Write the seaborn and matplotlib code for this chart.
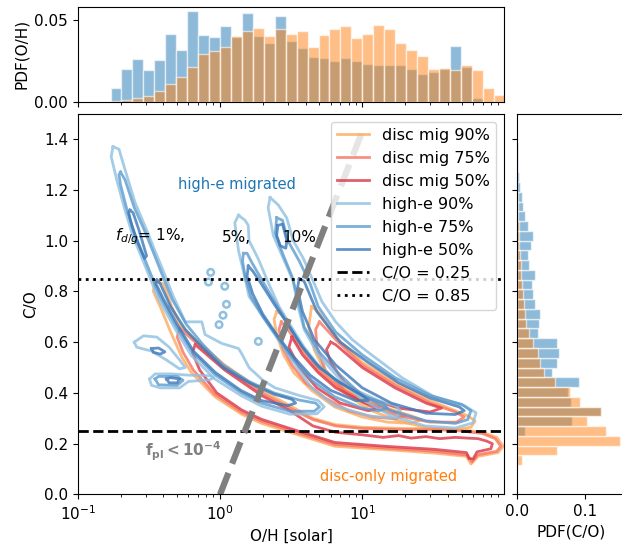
import numpy as np
import pandas as pd
import matplotlib
matplotlib.use("Agg")
import matplotlib.pyplot as plt
import seaborn as sns

plt.rcParams['font.family'] = ['DejaVu Sans']
plt.rcParams['font.size'] = 11
plt.rcParams['mathtext.fontset'] = 'dejavusans'

# ---------------- histogram data (fraction per bin) ----------------
n_bins = 39
oh_log_range = (-1, 2)        # O/H bins, log10 units
co_range = (0, 1.5)           # C/O bins

pdf_oh_highe = [0, 0, 0, 0.0086, 0.0200, 0.0261, 0.0194, 0.0255, 0.0412, 0.0316,
                0.0553, 0.0408, 0.0396, 0.0465, 0.0395, 0.0545, 0.0404, 0.0361, 0.0524, 0.0373,
                0.0329, 0.0276, 0.0269, 0.0251, 0.0269, 0.0249, 0.0233, 0.0227, 0.0227, 0.0227,
                0.0202, 0.0171, 0.0182, 0.0202, 0.0341, 0.0212, 0.0024, 0, 0]
pdf_oh_disc = [0, 0, 0, 0.0004, 0.0012, 0.0022, 0.0035, 0.0067, 0.0110, 0.0151,
               0.0214, 0.0294, 0.0310, 0.0335, 0.0402, 0.0433, 0.0449, 0.0404, 0.0445, 0.0414,
               0.0433, 0.0335, 0.0406, 0.0447, 0.0463, 0.0390, 0.0416, 0.0469, 0.0447, 0.0359,
               0.0314, 0.0282, 0.0202, 0.0206, 0.0194, 0.0224, 0.0196, 0.0084, 0.0041]
pdf_co_highe = [0, 0, 0, 0, 0, 0, 0.0113, 0.0808, 0.1240, 0.0793,
                0.0754, 0.0916, 0.0507, 0.0581, 0.0611, 0.0591, 0.0305, 0.0320, 0.0330, 0.0261,
                0.0227, 0.0212, 0.0266, 0.0167, 0.0153, 0.0202, 0.0227, 0.0153, 0.0108, 0.0084,
                0.0064, 0.0039, 0.0030, 0.0015, 0.0010, 0.0005, 0, 0, 0]
pdf_co_disc = [0, 0, 0, 0.0069, 0.0586, 0.1520, 0.1310, 0.1025, 0.1230, 0.0926,
               0.0778, 0.0557, 0.0394, 0.0335, 0.0300, 0.0236, 0.0177, 0.0128, 0.0118, 0.0099,
               0.0079, 0.0069, 0.0059, 0.0049, 0.0039, 0.0030, 0.0025, 0.0020, 0.0015, 0.0010,
               0.0005, 0, 0, 0, 0, 0, 0, 0, 0]

# ---------------- contour outlines (O/H [solar], C/O) ----------------
disc_1pct_90 = [(0.35,0.84),(0.40,0.83),(0.45,0.75),(0.52,0.67),(0.67,0.61),(1.08,0.51),(1.96,0.41),
                (3.1,0.35),(4.5,0.30),(6.5,0.275),(10,0.265),(20,0.26),(35,0.26),(50,0.255),(70,0.245),
                (88,0.225),(98,0.19),(90,0.165),(65,0.15),(58,0.12),(54,0.15),(32,0.163),(14.4,0.177),
                (6.4,0.19),(3.1,0.245),(1.96,0.28),(1.42,0.316),(0.92,0.385),(0.63,0.48),(0.54,0.54),
                (0.45,0.64),(0.38,0.74),(0.34,0.80),(0.35,0.84)]
disc_1pct_75 = [(0.52,0.655),(0.67,0.60),(1.08,0.50),(1.96,0.40),(3.1,0.34),(4.5,0.295),(6.5,0.27),
                (10,0.26),(20,0.255),(35,0.255),(50,0.25),(70,0.24),(86,0.22),(94,0.19),(88,0.17),
                (65,0.157),(59,0.128),(55,0.155),(32,0.17),(14.4,0.183),(6.4,0.197),(3.1,0.252),
                (1.96,0.288),(1.42,0.324),(0.92,0.395),(0.65,0.49),(0.55,0.56),(0.50,0.62),(0.52,0.655)]
disc_1pct_50 = [(0.67,0.59),(1.08,0.49),(1.96,0.39),(3.1,0.33),(4.5,0.27),(6.5,0.245),(10,0.235),
                (14,0.225),(18,0.232),(22,0.222),(28,0.228),(35,0.22),(45,0.225),(55,0.222),(65,0.22),
                (75,0.21),(82,0.20),(80,0.18),(64,0.168),(60,0.14),(56,0.142),(54,0.165),(32,0.178),
                (14.4,0.19),(6.4,0.205),(3.1,0.26),(1.96,0.296),(1.42,0.333),(0.95,0.40),(0.72,0.49),
                (0.64,0.56),(0.67,0.59)]
disc_5pct_90 = [(2.5,0.72),(2.75,0.71),(3.0,0.67),(3.8,0.58),(4.9,0.50),(6.5,0.44),(10,0.38),
                (15,0.34),(22,0.31),(26,0.295),(22,0.28),(15,0.285),(10,0.305),(6.4,0.345),
                (4.4,0.41),(3.3,0.48),(2.8,0.55),(2.5,0.63),(2.4,0.69),(2.5,0.72)]
disc_5pct_75 = [(2.7,0.68),(3.0,0.65),(3.8,0.565),(4.9,0.49),(6.5,0.43),(10,0.37),(15,0.335),
                (20,0.31),(17,0.298),(12,0.305),(8,0.33),(5.5,0.38),(4.0,0.44),(3.2,0.51),
                (2.75,0.58),(2.6,0.65),(2.7,0.68)]
disc_5pct_50 = [(3.2,0.62),(3.8,0.55),(4.9,0.48),(6.5,0.42),(10,0.365),(13,0.34),(11,0.33),
                (7,0.36),(4.8,0.42),(3.6,0.50),(3.05,0.58),(3.2,0.62)]
disc_10pct_90 = [(4.4,0.74),(4.9,0.72),(6.5,0.62),(10,0.52),(17,0.44),(30,0.37),(45,0.33),
                 (55,0.31),(62,0.29),(58,0.265),(45,0.255),(30,0.26),(18,0.29),(11,0.335),
                 (7.5,0.40),(5.5,0.48),(4.6,0.57),(4.2,0.66),(4.4,0.74)]
disc_10pct_75 = [(5.0,0.68),(6.5,0.61),(10,0.51),(17,0.43),(30,0.36),(45,0.325),(52,0.305),
                 (46,0.285),(30,0.285),(18,0.31),(11,0.35),(7.5,0.41),(5.5,0.49),(4.8,0.58),
                 (4.7,0.65),(5.0,0.68)]
disc_10pct_50 = [(6.0,0.60),(6.5,0.59),(10,0.50),(17,0.42),(28,0.36),(36,0.34),(30,0.325),
                 (18,0.34),(11,0.38),(7.5,0.44),(6.0,0.52),(5.6,0.57),(6.0,0.60)]

highe_1pct_90 = [(0.177,1.37),(0.195,1.36),(0.215,1.28),(0.253,1.15),(0.306,1.04),(0.349,0.96),
                 (0.40,0.88),(0.47,0.78),(0.57,0.68),(0.745,0.68),(0.785,0.63),(1.03,0.595),(1.35,0.575),
                 (1.42,0.555),(1.6,0.50),(2.0,0.45),(2.44,0.42),(3.6,0.39),(4.9,0.37),(5.4,0.345),
                 (4.8,0.318),(3.1,0.316),(1.96,0.348),(1.42,0.388),(0.92,0.455),(0.63,0.547),
                 (0.483,0.653),(0.368,0.773),(0.32,0.857),(0.28,0.937),(0.245,1.016),(0.215,1.12),
                 (0.19,1.23),(0.172,1.33),(0.177,1.37)]
highe_1pct_75 = [(0.20,1.27),(0.215,1.24),(0.25,1.13),(0.30,1.03),(0.345,0.945),(0.39,0.87),
                 (0.46,0.77),(0.58,0.67),(0.76,0.59),(1.05,0.51),(1.6,0.445),(2.4,0.40),(3.6,0.372),
                 (4.7,0.36),(5.0,0.345),(4.6,0.328),(3.1,0.328),(1.96,0.36),(1.42,0.40),(0.93,0.47),
                 (0.64,0.56),(0.49,0.665),(0.375,0.785),(0.325,0.87),(0.285,0.95),(0.25,1.03),
                 (0.22,1.13),(0.20,1.22),(0.195,1.26),(0.20,1.27)]
highe_1pct_50a = [(0.233,1.12),(0.245,1.11),(0.27,1.04),(0.305,0.94),(0.295,0.93),(0.265,0.99),
                  (0.24,1.06),(0.228,1.11),(0.233,1.12)]
highe_1pct_50b = [(0.36,0.845),(0.38,0.83),(0.45,0.74),(0.57,0.65),(0.75,0.58),(1.05,0.50),
                  (1.6,0.44),(2.4,0.395),(3.2,0.375),(3.4,0.36),(3.0,0.35),(1.95,0.37),(1.4,0.41),
                  (0.93,0.48),(0.65,0.565),(0.5,0.67),(0.40,0.77),(0.355,0.83),(0.36,0.845)]
highe_5pct_90 = [(1.35,1.10),(1.5,1.08),(1.58,1.06),(1.6,1.0),(1.85,0.93),(2.2,0.83),(2.6,0.74),
                 (3.1,0.67),(3.9,0.58),(4.9,0.51),(6.5,0.45),(9.9,0.40),(13,0.37),(17,0.35),
                 (18.5,0.33),(17,0.30),(11,0.31),(6.4,0.35),(4.4,0.42),(3.4,0.51),(2.86,0.57),
                 (2.3,0.65),(1.9,0.72),(1.6,0.78),(1.46,0.88),(1.35,0.96),(1.27,1.07),(1.35,1.10)]
highe_5pct_75 = [(1.46,0.95),(1.55,0.95),(1.65,0.92),(1.9,0.86),(2.3,0.78),(2.8,0.70),(3.6,0.60),
                 (4.6,0.52),(6.5,0.45),(10,0.39),(14,0.36),(15,0.34),(13,0.33),(10,0.34),(6.4,0.385),
                 (4.4,0.45),(3.3,0.53),(2.6,0.61),(2.0,0.70),(1.65,0.78),(1.5,0.86),(1.44,0.92),
                 (1.46,0.95)]
highe_5pct_50 = [(1.58,0.90),(1.7,0.88),(1.95,0.83),(2.4,0.75),(3.0,0.67),(3.8,0.58),(5,0.50),
                 (7,0.44),(10,0.39),(11,0.37),(9,0.37),(6,0.41),(4.3,0.47),(3.2,0.55),(2.5,0.63),
                 (2.0,0.71),(1.7,0.79),(1.55,0.86),(1.58,0.90)]
highe_10pct_90 = [(2.25,1.17),(2.57,1.14),(2.94,1.09),(3.27,1.0),(3.85,0.93),(4.52,0.84),(5.2,0.76),
                  (6.5,0.68),(8.5,0.61),(11,0.56),(19,0.46),(32,0.385),(52,0.35),(63,0.322),(60,0.282),
                  (45,0.262),(27.6,0.27),(16,0.31),(9.9,0.375),(6.8,0.46),(4.9,0.55),(3.9,0.65),
                  (3.5,0.75),(3.27,0.84),(2.71,0.945),(2.37,1.02),(2.18,1.13),(2.25,1.17)]
highe_10pct_75 = [(2.5,1.09),(2.75,1.08),(3.0,1.0),(3.6,0.92),(4.3,0.83),(4.9,0.74),(6.5,0.64),
                  (10,0.55),(17,0.46),(30,0.39),(50,0.355),(58,0.33),(55,0.295),(45,0.28),(28,0.29),
                  (16,0.33),(10,0.39),(7,0.47),(5,0.56),(3.9,0.66),(3.5,0.78),(3.2,0.86),(2.75,0.95),
                  (2.45,1.03),(2.5,1.09)]
highe_10pct_50a = [(2.55,1.06),(2.75,1.065),(2.95,1.0),(2.9,0.97),(2.65,0.98),(2.5,1.02),(2.55,1.06)]
highe_10pct_50b = [(3.6,0.85),(3.9,0.84),(4.8,0.72),(7,0.60),(11,0.52),(18,0.44),(30,0.38),
                   (48,0.345),(52,0.33),(45,0.315),(28,0.32),(16,0.36),(10,0.42),(6.5,0.51),
                   (4.6,0.61),(3.8,0.72),(3.5,0.81),(3.6,0.85)]
highe_blobA_90 = [(0.25,0.60),(0.29,0.625),(0.36,0.62),(0.44,0.58),(0.52,0.53),(0.57,0.50),
                  (0.52,0.495),(0.42,0.53),(0.33,0.565),(0.26,0.58),(0.25,0.60)]
highe_blobA_50 = [(0.33,0.575),(0.37,0.577),(0.41,0.562),(0.38,0.553),(0.34,0.56),(0.33,0.575)]
highe_blobB_90 = [(0.32,0.455),(0.35,0.475),(0.45,0.475),(0.6,0.47),(0.85,0.468),(0.9,0.46),
                  (0.85,0.452),(0.6,0.445),(0.52,0.42),(0.38,0.42),(0.33,0.43),(0.32,0.455)]
highe_blobB_75 = [(0.35,0.455),(0.37,0.465),(0.5,0.465),(0.55,0.45),(0.5,0.43),(0.37,0.432),(0.35,0.455)]
highe_blobB_50 = [(0.42,0.455),(0.45,0.46),(0.52,0.455),(0.5,0.44),(0.44,0.44),(0.42,0.455)]
highe_islands_oh = [0.86, 0.83, 1.08, 1.11, 1.05, 0.985, 1.86]
highe_islands_co = [0.875, 0.837, 0.82, 0.749, 0.706, 0.669, 0.603]

# reference lines / constraint line
co_thresholds = [0.25, 0.85]
pl_line_oh = [1.0, 10.0]
pl_line_co = [0.0, 1.43]

# ---------------- figure ----------------
fig = plt.figure(figsize=(6.22, 5.47), dpi=100)
ax = fig.add_axes([0.1249, 0.0960, 0.6859, 0.6962])
ax_top = fig.add_axes([0.1249, 0.8141, 0.6859, 0.1737])
ax_right = fig.add_axes([0.8317, 0.0960, 0.1741, 0.6962])

blue, orange = '#1f77b4', '#ff7f0e'
hist_kw = dict(alpha=0.5, edgecolor=(1, 1, 1, 0.6), linewidth=1)

# top histogram (bin centres in O/H, weights = fraction per bin)
oh_edges = np.linspace(oh_log_range[0], oh_log_range[1], n_bins + 1)
oh_centers = 10 ** (0.5 * (oh_edges[:-1] + oh_edges[1:]))
sns.histplot(x=oh_centers, weights=np.asarray(pdf_oh_highe), bins=n_bins, binrange=oh_log_range,
             log_scale=True, color=blue, ax=ax_top, **hist_kw)
sns.histplot(x=oh_centers, weights=np.asarray(pdf_oh_disc), bins=n_bins, binrange=oh_log_range,
             log_scale=True, color=orange, ax=ax_top, **hist_kw)
ax_top.set_xlim(0.1, 99.5)
ax_top.set_ylim(0, 0.0581)
ax_top.set_yticks([0, 0.05])
ax_top.set_yticklabels(['0.00', '0.05'])
ax_top.tick_params(labelbottom=False)
ax_top.set_xlabel('')
ax_top.set_ylabel('PDF(O/H)')

# right histogram
co_edges = np.linspace(co_range[0], co_range[1], n_bins + 1)
co_centers = 0.5 * (co_edges[:-1] + co_edges[1:])
sns.histplot(y=co_centers, weights=np.asarray(pdf_co_highe), bins=n_bins, binrange=co_range,
             color=blue, ax=ax_right, **hist_kw)
sns.histplot(y=co_centers, weights=np.asarray(pdf_co_disc), bins=n_bins, binrange=co_range,
             color=orange, ax=ax_right, **hist_kw)
ax_right.set_ylim(0, 1.5)
ax_right.set_xlim(0, 0.16)
ax_right.set_xticks([0, 0.1])
ax_right.set_xticklabels(['0.0', '0.1'])
ax_right.set_yticks(np.arange(0, 1.41, 0.2))
ax_right.tick_params(labelleft=False)
ax_right.set_ylabel('')
ax_right.set_xlabel('PDF(C/O)')

# main panel
ax.set_xscale('log')
disc_cols = {'90': '#fdaa5e', '75': '#f7735f', '50': '#dc3545'}
highe_cols = {'90': '#8fc0e0', '75': '#5b9bcf', '50': '#3c78b8'}


def draw(pts, color):
    df = pd.DataFrame(pts, columns=['oh', 'co'])
    sns.lineplot(data=df, x='oh', y='co', sort=False, estimator=None, color=color,
                 lw=2.0, alpha=0.8, ax=ax)
    return ax.lines[-1]


handles, labels = [], []
groups = [
    ('disc mig 90%', disc_cols['90'], [disc_1pct_90, disc_5pct_90, disc_10pct_90]),
    ('disc mig 75%', disc_cols['75'], [disc_1pct_75, disc_5pct_75, disc_10pct_75]),
    ('disc mig 50%', disc_cols['50'], [disc_1pct_50, disc_5pct_50, disc_10pct_50]),
    ('high-e 90%', highe_cols['90'], [highe_1pct_90, highe_5pct_90, highe_10pct_90,
                                       highe_blobA_90, highe_blobB_90]),
    ('high-e 75%', highe_cols['75'], [highe_1pct_75, highe_5pct_75, highe_10pct_75,
                                       highe_blobB_75]),
    ('high-e 50%', highe_cols['50'], [highe_1pct_50a, highe_1pct_50b, highe_5pct_50,
                                       highe_10pct_50a, highe_10pct_50b, highe_blobA_50,
                                       highe_blobB_50]),
]
for lab, col, polys in groups:
    first = None
    for p in polys:
        ln = draw(p, col)
        if first is None:
            first = ln
    handles.append(first)
    labels.append(lab)

sns.scatterplot(x=highe_islands_oh, y=highe_islands_co, marker='o', s=22,
                facecolor='none', edgecolor=highe_cols['90'], linewidth=1.8, ax=ax)

h1 = ax.axhline(co_thresholds[0], color='k', ls='--', lw=2)
h2 = ax.axhline(co_thresholds[1], color='k', ls=':', lw=2)
handles += [h1, h2]
labels += ['C/O = 0.25', 'C/O = 0.85']

sns.lineplot(x=pl_line_oh, y=pl_line_co, color='grey', lw=4.5, ls='--', ax=ax)

ax.set_xlim(0.1, 99.5)
ax.set_ylim(0, 1.5)
ax.set_yticks(np.arange(0, 1.41, 0.2))
ax.set_xlabel('O/H [solar]')
ax.set_ylabel('C/O')

ax.text(0.507, 1.222, 'high-e migrated', color=blue, fontsize=10.5, va='center')
ax.text(5.04, 0.07, 'disc-only migrated', color=orange, fontsize=10.5, va='center')
ax.text(0.183, 1.014, r'$f_{d/g}$= 1%,', fontsize=11, va='center')
ax.text(1.03, 1.014, '5%,', fontsize=11, va='center')
ax.text(2.76, 1.014, '10%', fontsize=11, va='center')
ax.text(0.297, 0.171, r'$\mathbf{f_{pl} < 10^{-4}}$', color='grey', fontsize=11, va='center')

ax.legend(handles, labels, loc='upper right', fontsize=11.5)

fig.savefig('out.png', dpi=100)
